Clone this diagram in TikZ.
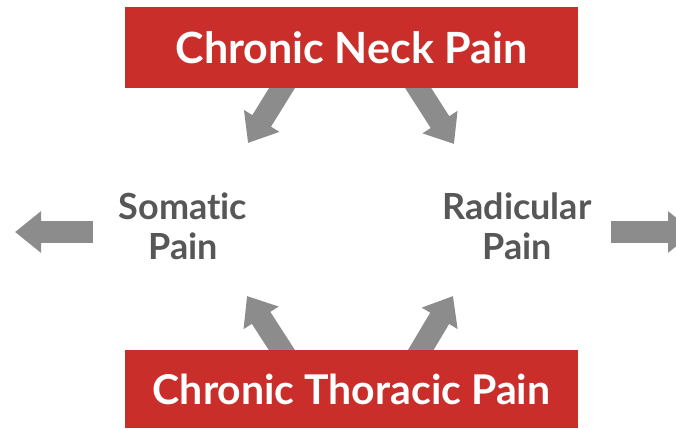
\documentclass[tikz,border=0pt]{standalone}
\usepackage{fontspec}
\setmainfont{Lato}[Ligatures={NoCommon}]
\usetikzlibrary{arrows.meta}
\definecolor{boxred}{HTML}{C92E2A}
\definecolor{arrowgray}{HTML}{8C8C8C}
\definecolor{textgray}{HTML}{575757}
\begin{document}
\begin{tikzpicture}[x=1pt,y=-1pt,
  redbox/.style={fill=boxred, text=white, font=\bfseries\fontsize{42}{46}\selectfont, inner sep=0pt, anchor=center},
  sidelabel/.style={text=textgray, font=\bfseries\fontsize{36}{40}\selectfont, align=center, inner sep=0pt},
  bigarrow/.style={draw=arrowgray, line width=22pt, -{Triangle[length=26pt,width=40pt]}}]
\useasboundingbox (0,0) rectangle (676,428);
% arrow anchor coordinates
\coordinate (tl0) at (287,80);
\coordinate (tl1) at (248,143);
\coordinate (tr0) at (413,80);
\coordinate (tr1) at (454,144);
\coordinate (bl0) at (287,358);
\coordinate (bl1) at (247,296);
\coordinate (br0) at (416,358);
\coordinate (br1) at (453,296);
\coordinate (l0) at (93,232);
\coordinate (l1) at (15,232);
\coordinate (r0) at (611,232);
\coordinate (r1) at (694,232);
\begin{scope}
\clip (0,0) rectangle (676,428);
\draw[bigarrow] (tl0) -- (tl1);
\draw[bigarrow] (tr0) -- (tr1);
\draw[bigarrow] (bl0) -- (bl1);
\draw[bigarrow] (br0) -- (br1);
\draw[bigarrow] (l0) -- (l1);
\draw[bigarrow] (r0) -- (r1);
\end{scope}
\node[redbox, minimum width=453pt, minimum height=81pt, font=\bfseries\fontsize{43}{46}\selectfont] (neck) at (351.5,47.5) {Chronic Neck Pain};
\node[redbox, minimum width=453pt, minimum height=78pt, font=\bfseries\fontsize{41}{46}\selectfont] (thor) at (351.5,389) {Chronic Thoracic Pain};
\node[sidelabel] (som) at (183,226) {Somatic\\Pain};
\node[sidelabel] (rad) at (517,226) {Radicular\\Pain};
\end{tikzpicture}
\end{document}
